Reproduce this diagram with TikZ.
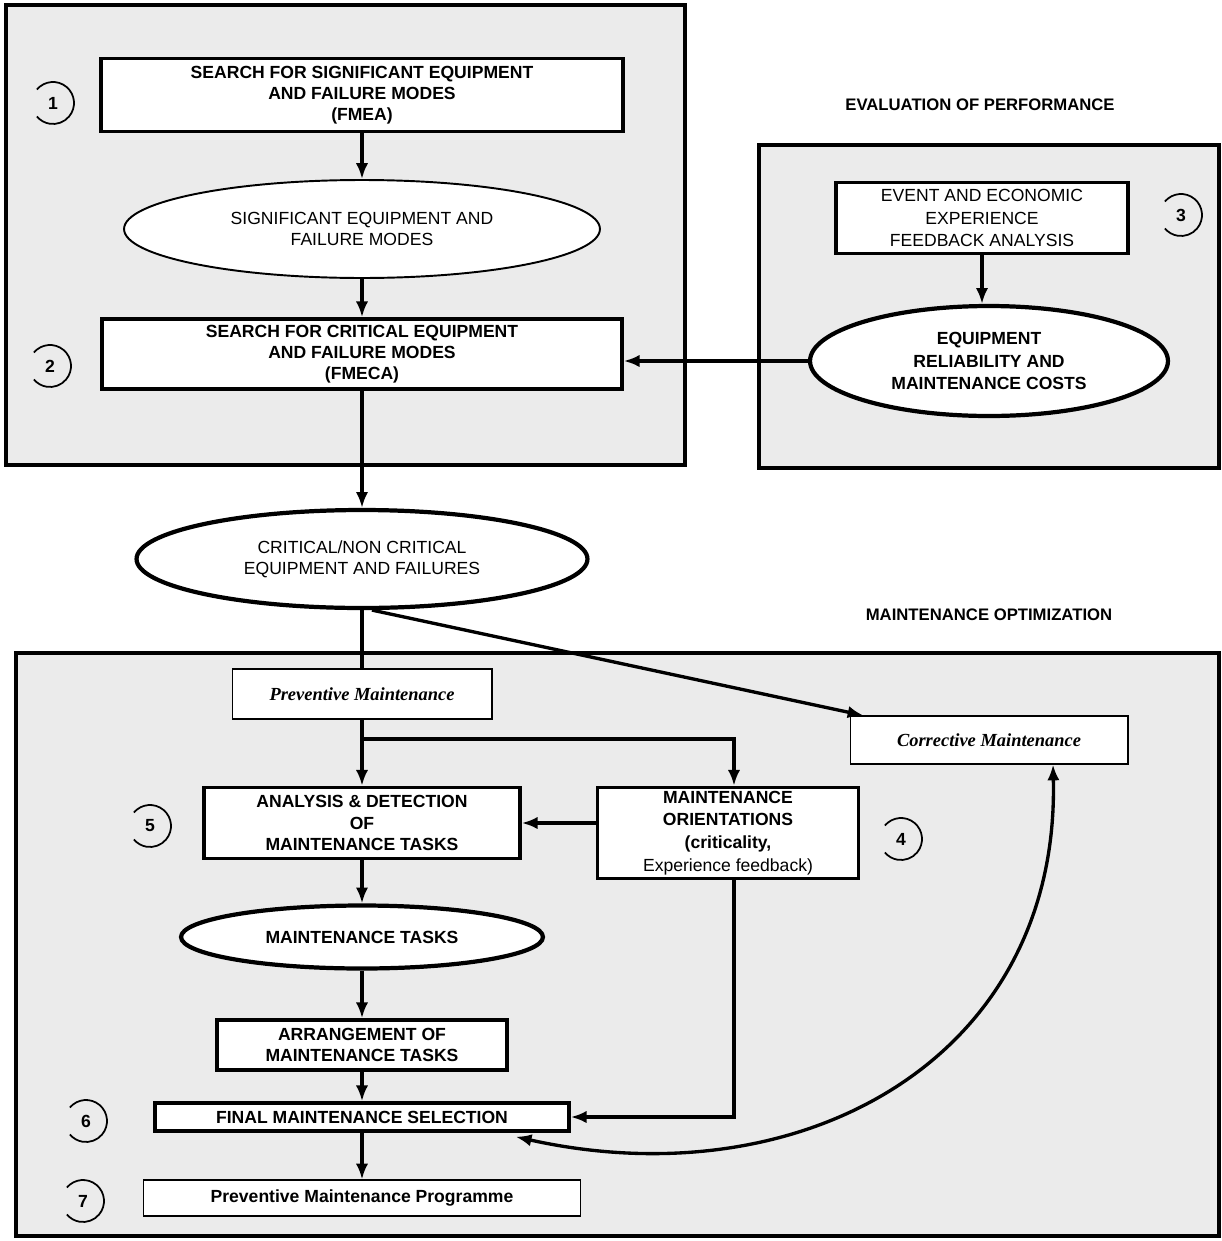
\documentclass[tikz,border=0pt]{standalone}
\usepackage{fontspec}
\setmainfont{Liberation Sans}
\newfontfamily\scriptit{Liberation Serif}
\usetikzlibrary{shapes.geometric,arrows.meta,calc}
\begin{document}
\begin{tikzpicture}[x=0.02cm,y=-0.02cm,
  every node/.style={font=\fontsize{10}{12}\selectfont, align=center, inner sep=0pt},
  frame/.style={draw=black, line width=2pt, fill=black!8},
  box/.style={draw=black, line width=2pt, fill=white, rectangle, font=\fontsize{10}{12}\selectfont\bfseries},
  wbox/.style={draw=black, line width=0.6pt, fill=white, rectangle},
  ell/.style={draw=black, line width=2.4pt, fill=white, ellipse},
  arr/.style={line width=1.9pt, -{Latex[length=9pt,width=7pt]}},
  ln/.style={line width=1.9pt},
  num/.style={font=\fontsize{10}{12}\selectfont\bfseries},
  ttl/.style={font=\fontsize{9.5}{12}\selectfont\bfseries},
  ring/.style={line width=1pt}
]
\useasboundingbox (0,0) rectangle (1221,1241);
\fill[white] (0,0) rectangle (1221,1241);

% frames
\draw[frame] (6,5) rectangle (685,465);
\draw[frame] (759,145) rectangle (1219,468);
\draw[frame] (16,653) rectangle (1219,1236);

% titles
\node[ttl] (t1) at (980,105) {EVALUATION OF PERFORMANCE};
\node[ttl] (t2) at (989,615) {MAINTENANCE OPTIMIZATION};

% upper left block
\node[box, minimum width=10.44cm, minimum height=1.46cm] (b1) at (362,95)
  {SEARCH FOR SIGNIFICANT EQUIPMENT\\AND FAILURE MODES\\(FMEA)};
\node[ell, line width=1.1pt, minimum width=9.52cm, minimum height=1.96cm] (e1) at (362,229)
  {SIGNIFICANT EQUIPMENT AND\\FAILURE MODES};
\node[box, minimum width=10.4cm, minimum height=1.4cm] (b2) at (362,354)
  {SEARCH FOR CRITICAL EQUIPMENT\\AND FAILURE MODES\\(FMECA)};

% right block
\node[box, minimum width=5.84cm, minimum height=1.42cm,
  font=\fontsize{10}{13}\selectfont] (b3) at (982,218)
  {EVENT AND ECONOMIC\\EXPERIENCE\\FEEDBACK ANALYSIS};
\node[ell, minimum width=7.16cm, minimum height=2.2cm,
  font=\fontsize{10}{13}\selectfont\bfseries] (e2) at (989,361)
  {EQUIPMENT\\RELIABILITY AND\\MAINTENANCE COSTS};

% middle
\node[ell, minimum width=9.02cm, minimum height=1.96cm] (e3) at (362,559)
  {CRITICAL/NON CRITICAL\\EQUIPMENT AND FAILURES};

% lower block
\node[wbox, minimum width=5.2cm, minimum height=1.0cm,
  font=\fontsize{10.5}{12}\selectfont\scriptit\bfseries\itshape] (prev) at (362,694)
  {Preventive Maintenance};
\node[wbox, minimum width=5.56cm, minimum height=0.96cm,
  font=\fontsize{10.5}{12}\selectfont\scriptit\bfseries\itshape] (corr) at (989,740)
  {Corrective Maintenance};
\node[box, minimum width=6.32cm, minimum height=1.42cm] (ana) at (362,823)
  {ANALYSIS \& DETECTION\\OF\\MAINTENANCE TASKS};
\node[box, minimum width=5.22cm, minimum height=1.82cm,
  font=\fontsize{10}{13}\selectfont\bfseries] (ori) at (728,833)
  {MAINTENANCE\\ORIENTATIONS\\(criticality,\\{\mdseries Experience feedback)}};
\node[ell, minimum width=7.24cm, minimum height=1.26cm,
  font=\fontsize{10}{12}\selectfont\bfseries] (tasks) at (362,937)
  {MAINTENANCE TASKS};
\node[box, minimum width=5.8cm, minimum height=1.0cm] (arrg) at (362,1045)
  {ARRANGEMENT OF\\MAINTENANCE TASKS};
\node[box, minimum width=8.28cm, minimum height=0.56cm] (fin) at (362,1117)
  {FINAL MAINTENANCE SELECTION};
\node[wbox, minimum width=8.74cm, minimum height=0.72cm,
  font=\fontsize{10}{12}\selectfont\bfseries] (prog) at (362,1198)
  {Preventive Maintenance Programme};

% number rings
\foreach \n/\px/\py in {1/53/103, 2/50/366, 3/1181/215, 4/901/839, 5/150/826, 6/86/1121, 7/83/1201}{
  \node[num] (c\n) at (\px,\py) {\n};
  \draw[ring] ([shift={(140:0.42cm)}]c\n.center) arc[start angle=140, end angle=-140, radius=0.42cm];
}

% connectors upper
\draw[arr] (b1.south) -- (e1.north);
\draw[arr] (e1.south) -- (b2.north);
\draw[arr] (b3.south) -- (b3.south |- e2.north);
\draw[arr] (e2.west) -- (e2.west -| b2.east);
\draw[arr] (b2.south) -- (e3.north);

% connectors lower
\draw[ln] (e3.south) -- (prev.north);
\draw[arr] ([xshift=0.2cm]e3.south) -- ($(corr.north west)+(14,0)$);
\draw[arr] (prev.south) -- (ana.north);
\coordinate (br) at (362,739);
\draw[arr] (br) -| ([xshift=0.12cm]ori.north);
\draw[arr] (ori.west |- ana.east) -- (ana.east);
\draw[arr] (ana.south) -- (tasks.north);
\draw[arr] (tasks.south) -- (arrg.north);
\draw[arr] (arrg.south) -- (fin.north);
\draw[arr] ([xshift=0.12cm]ori.south) |- (fin.east);
\draw[arr] (fin.south) -- (prog.north);
\draw[line width=1.9pt, {Latex[length=9pt,width=7pt]}-{Latex[length=9pt,width=7pt]}]
  ($(fin.south east)+(-55,4)$) .. controls (800,1200) and (1060,1060) .. ($(corr.south)+(64,0)$);
\end{tikzpicture}
\end{document}
